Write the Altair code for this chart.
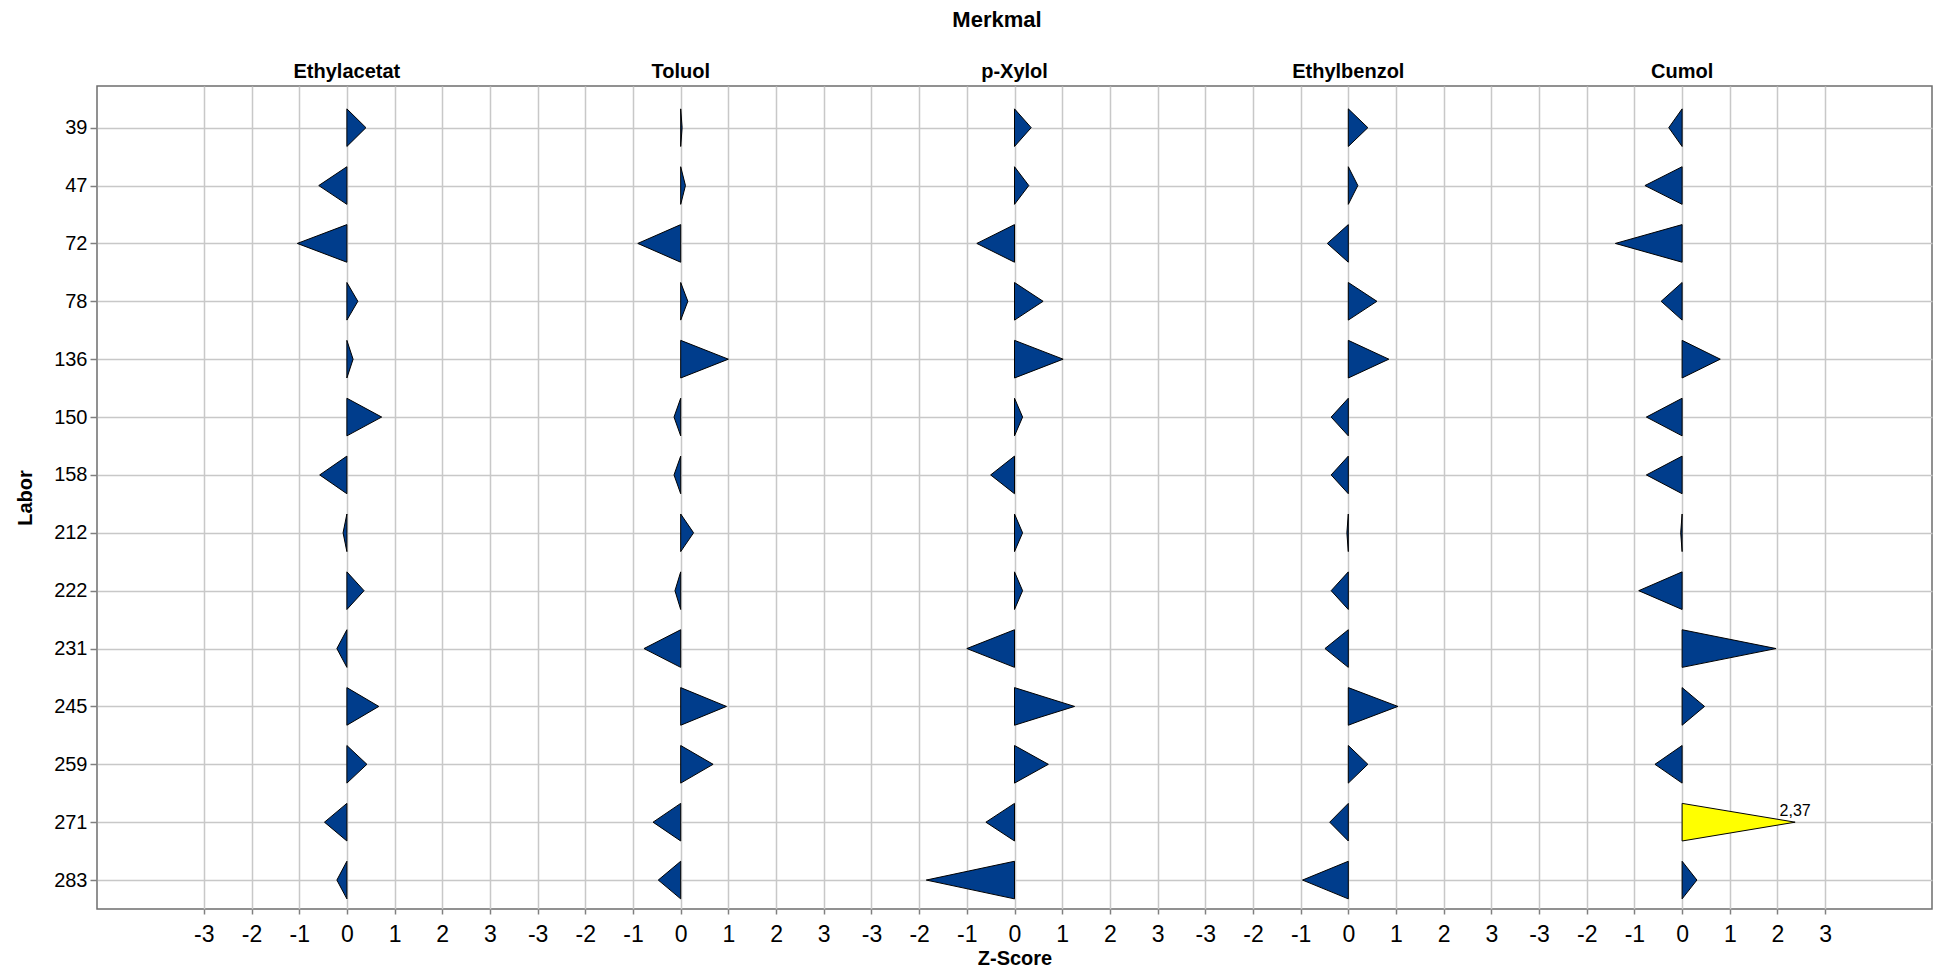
import json
import altair as alt
import pandas as pd

# ---- data ----
panels = ["Ethylacetat", "Toluol", "p-Xylol", "Ethylbenzol", "Cumol"]
labors = ["39", "47", "72", "78", "136", "150", "158", "212", "222", "231", "245", "259", "271", "283"]

z_ethylacetat = [0.40, -0.59, -1.04, 0.23, 0.13, 0.73, -0.57, -0.08, 0.36, -0.21, 0.67, 0.42, -0.47, -0.21]
z_toluol = [0.03, 0.10, -0.90, 0.15, 1.00, -0.14, -0.14, 0.27, -0.12, -0.77, 0.96, 0.68, -0.58, -0.47]
z_pxylol = [0.35, 0.30, -0.79, 0.60, 1.02, 0.17, -0.50, 0.17, 0.17, -1.00, 1.26, 0.71, -0.60, -1.85]
z_ethylbenzol = [0.41, 0.20, -0.44, 0.60, 0.85, -0.36, -0.36, -0.03, -0.36, -0.49, 1.04, 0.41, -0.39, -0.96]
z_cumol = [-0.28, -0.78, -1.40, -0.44, 0.80, -0.75, -0.75, -0.03, -0.91, 1.97, 0.47, -0.57, 2.37, 0.31]

z_tick_labels = [-3, -2, -1, 0, 1, 2, 3]

series = [z_ethylacetat, z_toluol, z_pxylol, z_ethylbenzol, z_cumol]
records = []
for p, vals in zip(panels, series):
    for lab, v in zip(labors, vals):
        records.append({"Merkmal": p, "Labor": lab, "z": v})
df = pd.DataFrame(records)

# ---- layout / style ----
SPAN = 7          # each panel covers z in [-3.5, 3.5]
HALF = 0.325      # half height of a triangle base, in row units
BLUE = "#003d8c"
YELLOW = "#ffff00"
FONT = "Liberation Sans"

panels_js = json.dumps(panels)
labors_js = json.dumps(labors)

x_values = [k * SPAN + t for k in range(len(panels)) for t in z_tick_labels]
x_scale = alt.Scale(domain=[-5.24, (len(panels) - 1) * SPAN + 5.24], nice=False, zero=False)
y_scale = alt.Scale(domain=[-0.72, len(labors) - 0.5], reverse=True, nice=False, zero=False)

x_axis = alt.Axis(
    values=x_values,
    labelExpr=f"'' + (datum.value - {SPAN} * round(datum.value / {SPAN}))",
    title="Z-Score",
    titleFontSize=20,
    titleFontWeight="bold",
    titleY=49,
    titleBaseline="middle",
    labelFontSize=23,
    labelPadding=9,
    tickSize=5,
    grid=True,
    domain=False,
)
y_axis = alt.Axis(
    values=list(range(len(labors))),
    labelExpr=f"{labors_js}[datum.value]",
    title="Labor",
    titleFontSize=20,
    titleFontWeight="bold",
    titleX=-72,
    titleBaseline="middle",
    labelFontSize=20,
    labelPadding=3,
    tickSize=7,
    grid=True,
    domain=False,
)

base = (
    alt.Chart(df)
    .transform_calculate(
        col=f"indexof({panels_js}, datum.Merkmal)",
        row=f"indexof({labors_js}, datum.Labor)",
    )
    .transform_calculate(xoff=f"{SPAN} * datum.col")
    .transform_calculate(pts="[0, 1]")
    .transform_flatten(["pts"])
    .transform_calculate(
        xv="datum.xoff + datum.pts * datum.z",
        yv=f"datum.row - (1 - datum.pts) * {HALF}",
        yv2=f"datum.row + (1 - datum.pts) * {HALF}",
        flag="abs(datum.z) > 2 ? 'hi' : 'norm'",
        key="datum.Merkmal + '|' + datum.Labor",
        lbl="replace(format(datum.z, '.2f'), '.', ',')",
    )
)

triangles = base.mark_area(
    orient="vertical", stroke="black", strokeWidth=1, opacity=1, strokeJoin="miter"
).encode(
    x=alt.X("xv:Q", scale=x_scale, axis=x_axis),
    y=alt.Y("yv:Q", scale=y_scale, stack=False, axis=y_axis),
    y2="yv2:Q",
    color=alt.Color(
        "flag:N", scale=alt.Scale(domain=["norm", "hi"], range=[BLUE, YELLOW]), legend=None
    ),
    detail="key:N",
)

value_labels = base.transform_filter("datum.flag == 'hi' && datum.pts == 1").mark_text(
    align="center", baseline="alphabetic", dy=-6, fontSize=16, font=FONT, color="black"
).encode(
    x=alt.X("xv:Q", axis=x_axis),
    y=alt.Y("yv:Q", axis=y_axis),
    text="lbl:N",
)

headers = (
    alt.Chart(pd.DataFrame({"Merkmal": panels}))
    .transform_calculate(xv=f"{SPAN} * indexof({panels_js}, datum.Merkmal)")
    .mark_text(fontSize=20, fontWeight="bold", font=FONT, baseline="middle", align="center", color="black")
    .encode(x=alt.X("xv:Q", axis=x_axis), y=alt.value(-14), text="Merkmal:N")
)

top_title = (
    alt.Chart(alt.Data(values=[{"t": "Merkmal"}]))
    .mark_text(fontSize=22, fontWeight="bold", font=FONT, baseline="middle", align="center", color="black")
    .encode(x=alt.value(900), y=alt.value(-66), text="t:N")
)

chart = (
    alt.layer(triangles, value_labels, headers, top_title)
    .properties(
        width=1835,
        height=823,
        autosize=alt.AutoSizeParams(type="none"),
        padding={"left": 89, "top": 78, "right": 1, "bottom": 59},
    )
    .configure_view(stroke="#6e6e6e", strokeWidth=1.5)
    .configure_axis(
        labelFont=FONT,
        titleFont=FONT,
        labelColor="black",
        titleColor="black",
        tickColor="#808080",
        tickWidth=1.5,
        gridColor="#c8c8c8",
        gridWidth=1.5,
    )
    .configure_text(font=FONT)
)

chart.save("out.html", embed_options={"renderer": "svg", "actions": False})
